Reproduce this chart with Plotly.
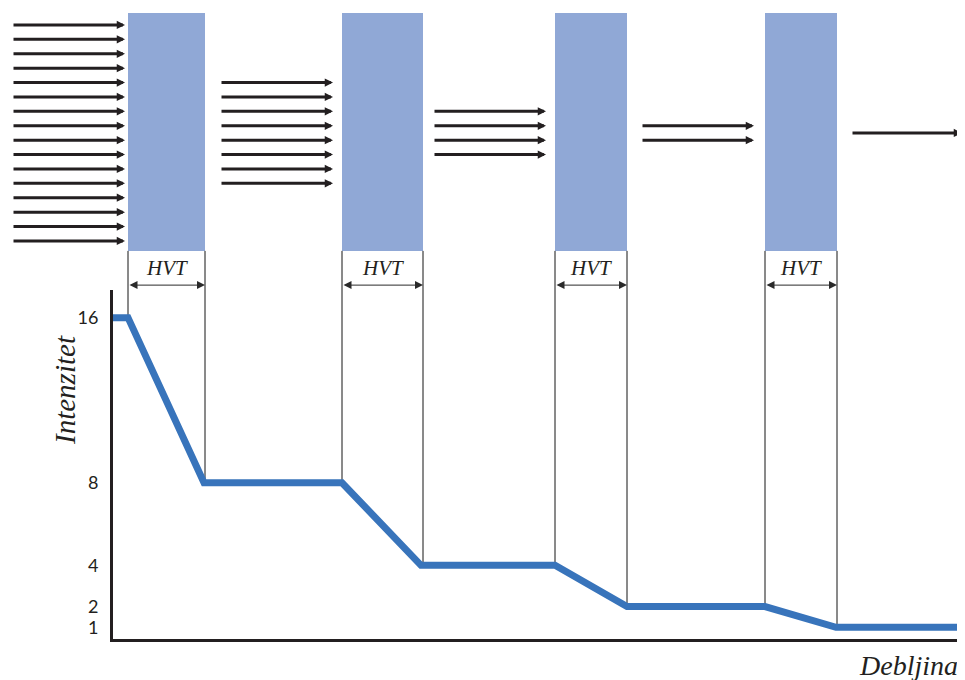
import plotly.graph_objects as go

# ---------------- data ----------------
# absorber slabs (thickness units), each one half-value thickness (HVT) wide
slab_start = [1.5, 22.9, 44.2, 65.2]
slab_end = [9.2, 31.0, 51.4, 72.4]

# intensity curve
thickness = [0.0, 1.5, 9.1, 22.9, 30.8, 44.2, 51.4, 65.2, 72.3, 85.0]
intensity = [16, 16, 8, 8, 4, 4, 2, 2, 1, 1]

# beam arrows (number of rays in each gap) and where each group runs
beam_count = [16, 8, 4, 2, 1]
beam_tail = [-10.1, 10.7, 32.0, 52.8, 73.8]
beam_head = [1.2, 22.0, 43.3, 64.1, 84.9]

tick_values = [1, 2, 4, 8, 16]
tick_labels = ["1", "2", "4", "8", "16"]

slab_label = "HVT"
y_title = "Intenzitet"
x_title = "Debljina"

# ---------------- style ----------------
DARK = "#231f20"
SLAB = "#90a8d6"
CURVE = "#3874bb"
Y_RANGE = [0.43, 17.34]
X_RANGE = [0.0, 85.0]

SLAB_TOP = 1.794
SLAB_BOTTOM = 1.112
HVT_ARROW_Y = 1.014
HVT_TEXT_Y = 1.063
BEAM_CENTER = 1.450
BEAM_STEP = 0.04126


def to_paper(v):
    return (v - Y_RANGE[0]) / (Y_RANGE[1] - Y_RANGE[0])


fig = go.Figure()
fig.add_trace(go.Scatter(
    x=thickness, y=intensity, mode="lines",
    line=dict(color=CURVE, width=7),
    hoverinfo="skip", showlegend=False,
))

shapes = []
annotations = []

# slabs
for s, e in zip(slab_start, slab_end):
    shapes.append(dict(type="rect", xref="x", yref="paper",
                       x0=s, x1=e, y0=SLAB_BOTTOM, y1=SLAB_TOP,
                       fillcolor=SLAB, line=dict(width=0), layer="below"))

# HVT guide lines from slab bottom to curve
before = [16, 8, 4, 2]
after = [8, 4, 2, 1]
for i, (s, e) in enumerate(zip(slab_start, slab_end)):
    for xv, val in ((s, before[i]), (e, after[i])):
        shapes.append(dict(type="line", xref="x", yref="paper",
                           x0=xv, x1=xv, y0=SLAB_BOTTOM, y1=to_paper(val),
                           line=dict(color="#151515", width=1), layer="below"))
    # double-headed HVT arrow
    annotations.append(dict(x=e, y=HVT_ARROW_Y, xref="x", yref="paper",
                            ax=s, ay=0, axref="x", ayref="pixel",
                            text="", showarrow=True, arrowside="end+start",
                            arrowhead=2, arrowsize=1.6, arrowwidth=1,
                            arrowcolor="#2a2a2a"))
    annotations.append(dict(x=(s + e) / 2, y=HVT_TEXT_Y, xref="x", yref="paper",
                            xanchor="center", yanchor="middle",
                            text=slab_label, showarrow=False,
                            font=dict(family="Liberation Serif", size=21,
                                      color=DARK, style="italic")))

# beam arrows
for n, t, h in zip(beam_count, beam_tail, beam_head):
    for k in range(n):
        yk = BEAM_CENTER + (k - (n - 1) / 2) * BEAM_STEP
        annotations.append(dict(x=h, y=yk, xref="x", yref="paper",
                                ax=t, ay=0, axref="x", ayref="pixel",
                                text="", showarrow=True, arrowhead=2,
                                arrowsize=0.55, arrowwidth=3, arrowcolor=DARK))

# axis titles
annotations.append(dict(x=-0.0565, y=0.7135, xref="paper", yref="paper",
                        xanchor="center", yanchor="middle",
                        text=y_title, textangle=-90, showarrow=False,
                        font=dict(family="Liberation Serif", size=29,
                                  color=DARK, style="italic")))
annotations.append(dict(x=0.9965, y=-0.0745, xref="paper", yref="paper",
                        xanchor="right", yanchor="middle",
                        text=x_title, showarrow=False,
                        font=dict(family="Liberation Serif", size=28,
                                  color=DARK, style="italic")))

fig.update_layout(
    width=957, height=672,
    margin=dict(l=105, r=2, t=282, b=41),
    paper_bgcolor="white", plot_bgcolor="white",
    shapes=shapes, annotations=annotations,
    xaxis=dict(range=X_RANGE, showline=True, linewidth=3, linecolor=DARK,
               showgrid=False, zeroline=False, showticklabels=False, ticks=""),
    yaxis=dict(range=Y_RANGE, showline=True, linewidth=3, linecolor=DARK,
               showgrid=False, zeroline=False, ticks="",
               tickvals=tick_values, ticktext=tick_labels,
               ticklabelstandoff=8,
               tickfont=dict(family="Lato", size=18, color=DARK)),
)

fig.write_html("out.html")
